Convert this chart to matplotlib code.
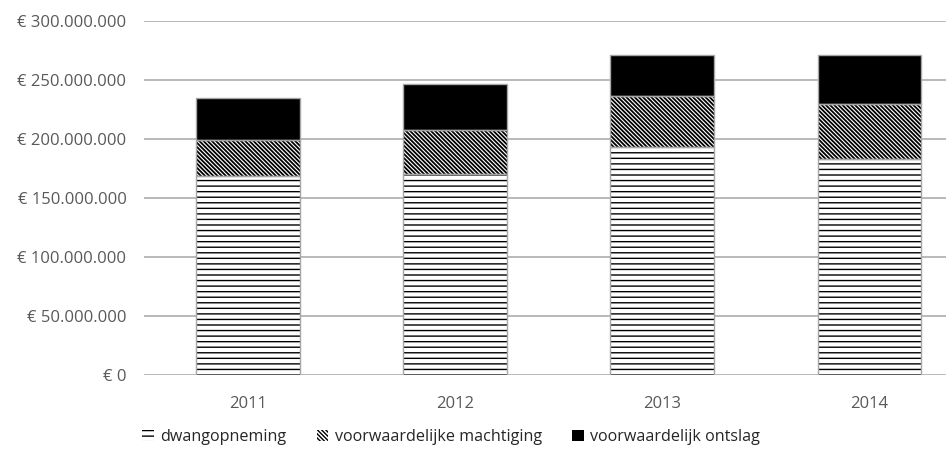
import numpy as np
import matplotlib
matplotlib.use('Agg')
import matplotlib.pyplot as plt
from matplotlib.patches import Patch
from matplotlib.ticker import FuncFormatter

plt.rcParams['font.family'] = ['Open Sans', 'DejaVu Sans']
plt.rcParams['hatch.linewidth'] = 1.0

years = ['2011', '2012', '2013', '2014']
dwangopneming = [168.5e6, 170.0e6, 193.0e6, 183.0e6]
machtiging = [30.5e6, 37.5e6, 43.0e6, 47.0e6]
ontslag = [36.0e6, 39.5e6, 35.5e6, 41.5e6]
labels = ['dwangopneming', 'voorwaardelijke machtiging', 'voorwaardelijk ontslag']

H_DWANG = '---'
H_MACHT = '\\' * 8

fig = plt.figure(figsize=(9.46, 4.53), dpi=100)
ax = fig.add_axes([0.1527, 0.1722, 0.8758, 0.7815])

x = np.arange(len(years))
w = 0.5
b1 = np.array(dwangopneming)
b2 = b1 + np.array(machtiging)

ax.bar(x, dwangopneming, w, color='white', hatch=H_DWANG, edgecolor='black', linewidth=0, zorder=3)
with plt.rc_context({'hatch.linewidth': 1.3}):
    ax.bar(x, machtiging, w, bottom=b1, color='white', hatch=H_MACHT, edgecolor='black', linewidth=0, zorder=3)
    macht_handle = Patch(facecolor='white', edgecolor='black', linewidth=0, hatch=H_MACHT)
ax.bar(x, ontslag, w, bottom=b2, color='black', edgecolor='black', linewidth=0, zorder=3)
# light grey outline round each segment
for vals, bot in [(dwangopneming, 0), (machtiging, b1), (ontslag, b2)]:
    ax.bar(x, vals, w, bottom=bot, fill=False, edgecolor='#a6a6a6', linewidth=1.0, zorder=4)

ax.set_xlim(-0.5, 3.5)
ax.set_ylim(0, 300e6)
ax.set_yticks(np.arange(0, 300e6 + 1, 50e6))
ax.yaxis.set_major_formatter(FuncFormatter(lambda v, p: '€ ' + f'{int(v):,}'.replace(',', '.')))
ax.set_xticks(x)
ax.set_xticklabels(years)
ax.grid(axis='y', color='#b3b3b3', linewidth=1.3, zorder=0)
ax.set_axisbelow(True)
for s in ax.spines.values():
    s.set_visible(False)
ax.tick_params(axis='both', length=0, colors='#595959', labelsize=12)
ax.tick_params(axis='y', pad=13)
ax.tick_params(axis='x', pad=15)

handles = [Patch(facecolor='white', edgecolor='black', linewidth=0, hatch=H_DWANG),
           macht_handle,
           Patch(facecolor='black', edgecolor='black', linewidth=0)]
fig.legend(handles, labels, loc='center', bbox_to_anchor=(0.477, 0.035), ncol=3,
           frameon=False, fontsize=11.6, handlelength=0.7, handleheight=0.7,
           handletextpad=0.4, columnspacing=1.9, labelcolor='#262626')

fig.savefig('out.png', dpi=100)
